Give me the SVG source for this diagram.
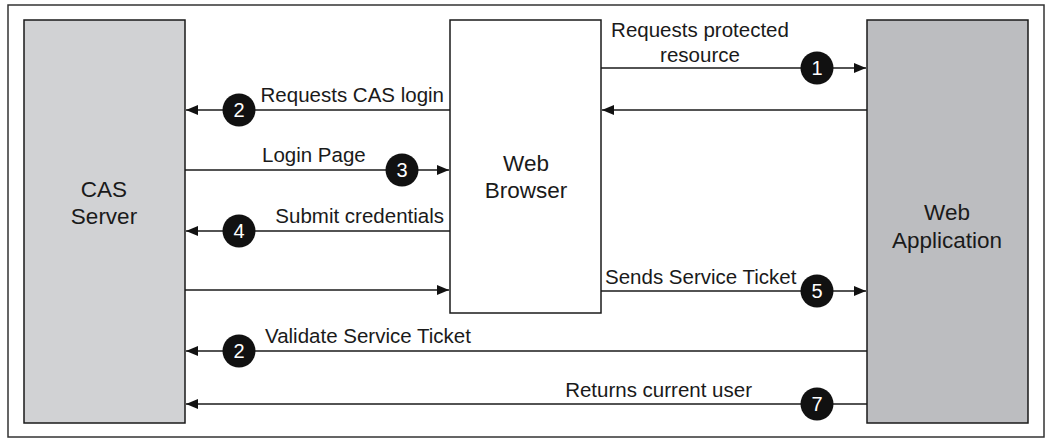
<svg xmlns="http://www.w3.org/2000/svg" width="1049" height="445" viewBox="0 0 1049 445">
<style>
.t{font-family:"Liberation Sans",Arial,sans-serif;font-size:20.5px;fill:#1a1a1a}
.n{font-family:"Liberation Sans",Arial,sans-serif;font-size:22.5px;fill:#1a1a1a;text-anchor:middle}
.c{fill:#111}
.cn{font-family:"Liberation Sans",Arial,sans-serif;font-size:20px;fill:#fff;text-anchor:middle}
.ln{stroke:#1a1a1a;stroke-width:1.6;fill:none}
</style>
<defs>
<marker id="ah" viewBox="0 0 12 10" refX="12" refY="5" markerWidth="12" markerHeight="10" markerUnits="userSpaceOnUse" orient="auto">
<path d="M0,0 L12,5 L0,10 Z" fill="#111"/>
</marker>
</defs>
<rect x="0" y="0" width="1049" height="445" fill="#fff"/>
<rect x="8" y="5" width="1036" height="432" fill="none" stroke="#333" stroke-width="1.5"/>
<g id="cas-server">
<rect x="24" y="20" width="161" height="403" fill="#d1d2d4" stroke="#1a1a1a" stroke-width="1.5"/>
<text class="n" x="104" y="197">CAS</text>
<text class="n" x="104" y="224">Server</text>
</g>
<g id="web-browser">
<rect x="450" y="20" width="151" height="293" fill="#fff" stroke="#1a1a1a" stroke-width="1.5"/>
<text class="n" x="526" y="171">Web</text>
<text class="n" x="526" y="198">Browser</text>
</g>
<g id="web-application">
<rect x="867" y="20" width="161" height="403" fill="#bcbdc0" stroke="#1a1a1a" stroke-width="1.5"/>
<text class="n" x="947" y="220">Web</text>
<text class="n" x="947" y="248">Application</text>
</g>
<g id="connectors">
<line class="ln" x1="601" y1="68" x2="866" y2="68" marker-end="url(#ah)"/>
<line class="ln" x1="867" y1="110" x2="602" y2="110" marker-end="url(#ah)"/>
<line class="ln" x1="450" y1="110" x2="186" y2="110" marker-end="url(#ah)"/>
<line class="ln" x1="185" y1="170" x2="449" y2="170" marker-end="url(#ah)"/>
<line class="ln" x1="450" y1="231" x2="186" y2="231" marker-end="url(#ah)"/>
<line class="ln" x1="185" y1="290" x2="449" y2="290" marker-end="url(#ah)"/>
<line class="ln" x1="601" y1="291" x2="866" y2="291" marker-end="url(#ah)"/>
<line class="ln" x1="867" y1="351" x2="186" y2="351" marker-end="url(#ah)"/>
<line class="ln" x1="867" y1="404" x2="186" y2="404" marker-end="url(#ah)"/>
<circle class="c" cx="817" cy="68" r="16.5"/><text class="cn" x="817" y="75">1</text>
<circle class="c" cx="239" cy="110" r="16.5"/><text class="cn" x="239" y="117">2</text>
<circle class="c" cx="402" cy="170" r="16.5"/><text class="cn" x="402" y="177">3</text>
<circle class="c" cx="239" cy="231" r="16.5"/><text class="cn" x="239" y="238">4</text>
<circle class="c" cx="817" cy="291" r="16.5"/><text class="cn" x="817" y="298">5</text>
<circle class="c" cx="239" cy="351" r="16.5"/><text class="cn" x="239" y="358">2</text>
<circle class="c" cx="817" cy="404" r="16.5"/><text class="cn" x="817" y="411">7</text>
<text class="t" x="700" y="37" text-anchor="middle">Requests protected</text>
<text class="t" x="700" y="62" text-anchor="middle">resource</text>
<text class="t" x="444" y="102" text-anchor="end">Requests CAS login</text>
<text class="t" x="262" y="162">Login Page</text>
<text class="t" x="444" y="223" text-anchor="end">Submit credentials</text>
<text class="t" x="605" y="284">Sends Service Ticket</text>
<text class="t" x="265" y="343">Validate Service Ticket</text>
<text class="t" x="752" y="397" text-anchor="end">Returns current user</text>
</g>
</svg>
